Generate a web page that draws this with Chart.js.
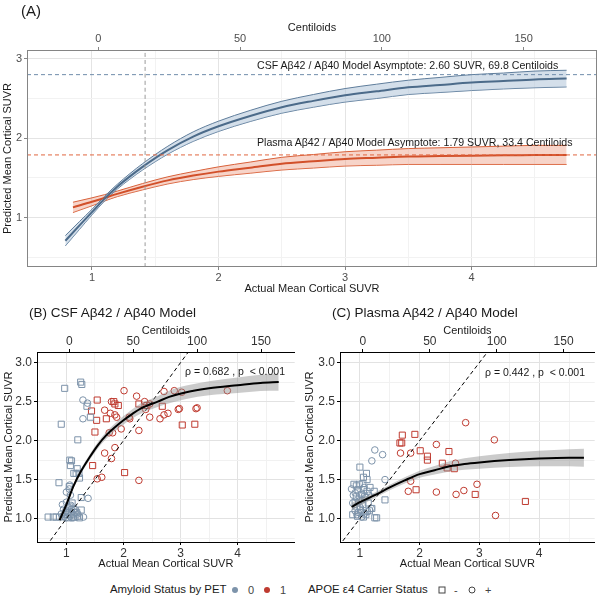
<!DOCTYPE html>
<html>
<head>
<meta charset="utf-8">
<script src="https://cdn.jsdelivr.net/npm/chart.js@4/dist/chart.umd.min.js"></script>
<style>
  body { margin: 0; background: #fff; font-family: "Liberation Sans", Arial, sans-serif; }
  #wrap { position: relative; width: 600px; height: 599px; overflow: hidden; }
  canvas { position: absolute; }
  .t { position: absolute; white-space: pre; color: #1a1a1a; line-height: 1; transform: translateY(-50%); }
  .dot { position: absolute; width: 6px; height: 6px; border-radius: 50%; transform: translate(-50%, -50%); }
  .sq { position: absolute; width: 5px; height: 5px; border: 1px solid #444; transform: translate(-50%, -50%); }
  .ci { position: absolute; width: 5px; height: 5px; border: 1px solid #444; border-radius: 50%; transform: translate(-50%, -50%); }
</style>
</head>
<body>
<div id="wrap">
  <canvas id="chartA" width="600" height="300" style="left:0;top:0"></canvas>
  <canvas id="chartB" width="300" height="275" style="left:0;top:300px"></canvas>
  <canvas id="chartC" width="300" height="275" style="left:300px;top:300px"></canvas>

  <div class="t" style="left:21px;top:10px;font-size:15px">(A)</div>
  <div class="t" style="left:257px;top:65px;font-size:10.6px">CSF Aβ42 / Aβ40 Model Asymptote: 2.60 SUVR, 69.8 Centiloids</div>
  <div class="t" style="left:257px;top:142px;font-size:10.6px">Plasma Aβ42 / Aβ40 Model Asymptote: 1.79 SUVR, 33.4 Centiloids</div>

  <div class="t" style="left:29px;top:313px;font-size:13.5px">(B) CSF Aβ42 / Aβ40 Model</div>
  <div class="t" style="left:332px;top:313px;font-size:13.5px">(C) Plasma Aβ42 / Aβ40 Model</div>
  <div class="t" style="left:185px;top:371px;font-size:10.5px">ρ = 0.682 , p  &lt; 0.001</div>
  <div class="t" style="left:485px;top:372px;font-size:10.5px">ρ = 0.442 , p  &lt; 0.001</div>

  <div class="t" style="left:110px;top:590px;font-size:11.4px">Amyloid Status by PET</div>
  <div class="dot" style="left:235px;top:590px;background:#7d93aa"></div>
  <div class="t" style="left:248px;top:590px;font-size:11px;color:#444">0</div>
  <div class="dot" style="left:267px;top:590px;background:#bf3b30"></div>
  <div class="t" style="left:280px;top:590px;font-size:11px;color:#444">1</div>

  <div class="t" style="left:308px;top:590px;font-size:11.4px">APOE ε4 Carrier Status</div>
  <div class="sq" style="left:442px;top:590px"></div>
  <div class="t" style="left:454px;top:590px;font-size:11px;color:#444">-</div>
  <div class="ci" style="left:472px;top:590px"></div>
  <div class="t" style="left:485px;top:590px;font-size:11px;color:#444">+</div>
</div>

<script>
// ---- Panel A: model curves (SUVR) ----
var csfX    = [0.79, 0.9, 1.0, 1.1, 1.2, 1.3, 1.4, 1.6, 1.8, 2.0, 2.25, 2.5, 2.75, 3.0, 3.25, 3.5, 3.75, 4.0, 4.25, 4.5, 4.75];
var csfFit  = [0.71, 0.90, 1.07, 1.24, 1.39, 1.52, 1.64, 1.85, 2.02, 2.15, 2.28, 2.39, 2.47, 2.54, 2.59, 2.64, 2.67, 2.70, 2.72, 2.74, 2.75];
var csfLo   = [0.645, 0.85, 1.035, 1.21, 1.36, 1.485, 1.60, 1.80, 1.96, 2.085, 2.21, 2.315, 2.39, 2.455, 2.50, 2.55, 2.575, 2.60, 2.62, 2.635, 2.645];
var csfHi   = [0.775, 0.95, 1.105, 1.27, 1.42, 1.555, 1.68, 1.90, 2.08, 2.215, 2.35, 2.465, 2.55, 2.625, 2.68, 2.73, 2.765, 2.80, 2.82, 2.845, 2.855];

var plasmaX   = [0.85, 1.0, 1.1, 1.2, 1.4, 1.6, 1.8, 2.0, 2.25, 2.5, 2.75, 3.0, 3.25, 3.5, 3.75, 4.0, 4.25, 4.5, 4.75];
var plasmaFit = [1.13, 1.20, 1.25, 1.30, 1.39, 1.47, 1.53, 1.58, 1.63, 1.68, 1.71, 1.74, 1.755, 1.77, 1.775, 1.78, 1.785, 1.79, 1.79];
var plasmaLo  = [1.065, 1.15, 1.21, 1.265, 1.35, 1.425, 1.48, 1.52, 1.56, 1.60, 1.625, 1.65, 1.66, 1.67, 1.67, 1.67, 1.67, 1.67, 1.67];
var plasmaHi  = [1.195, 1.25, 1.29, 1.335, 1.43, 1.515, 1.58, 1.64, 1.70, 1.76, 1.795, 1.83, 1.85, 1.87, 1.88, 1.89, 1.90, 1.91, 1.91];

var csfAsymptote = 2.80;
var plasmaAsymptote = 1.79;
var amyloidThreshold = 1.42;

// ---- Panel B: CSF model fit ----
var bX   = [0.88, 1.0, 1.12, 1.25, 1.41, 1.55, 1.70, 1.85, 2.0, 2.15, 2.3, 2.6, 2.8, 3.1, 3.5, 4.0, 4.4, 4.72];
var bFit = [0.98, 1.18, 1.41, 1.60, 1.79, 1.94, 2.07, 2.17, 2.26, 2.34, 2.41, 2.50, 2.56, 2.62, 2.67, 2.71, 2.74, 2.75];
var bLo  = [0.94, 1.145, 1.38, 1.57, 1.755, 1.90, 2.025, 2.12, 2.205, 2.28, 2.345, 2.43, 2.48, 2.535, 2.58, 2.61, 2.635, 2.64];
var bHi  = [1.02, 1.215, 1.44, 1.63, 1.825, 1.98, 2.115, 2.22, 2.315, 2.40, 2.475, 2.57, 2.64, 2.705, 2.76, 2.81, 2.845, 2.86];

// points [actual, predicted]; amy0/amy1 = PET status, Neg/Pos = APOE e4 carrier
var bAmy0Neg = [[0.97,2.67],[1.25,2.75],[1.27,2.72],[0.91,2.21],[1.20,2.01],[1.36,2.44],[1.42,2.30],
  [1.06,1.75],[1.09,1.74],[1.07,1.68],[1.13,1.58],[1.17,1.58],[1.19,1.64],[1.22,1.58],[1.23,1.52],[0.87,1.46],
  [1.05,1.41],[1.26,1.27],[1.26,1.11],[0.68,1.02],[0.77,1.02],[0.82,1.02],[0.88,1.02],[0.95,1.03],[1.03,1.01],
  [1.09,1.06],[1.15,1.02],[1.18,1.08],[1.20,1.03],[0.99,1.08],[1.12,1.12],[1.06,1.15],[1.23,1.01],[1.10,1.20],[1.02,1.05]];
var bAmy0Pos = [[1.29,2.52],[1.37,2.48],[1.29,2.28],[1.06,1.43],[1.05,1.38],[1.00,1.34],[1.07,1.30],[1.38,1.26],
  [1.30,1.02],[0.93,1.18],[1.00,1.21],[0.91,1.06],[0.95,1.12],[1.03,1.08],[1.06,1.03],[1.09,1.12],[1.12,1.05],
  [1.15,1.08],[1.20,1.06],[0.99,1.01],[1.03,1.15],[1.09,1.01],[1.15,1.12],[1.00,1.10],[1.12,1.01],[1.08,1.17],[0.97,1.05]];
var bAmy1Neg = [[1.54,2.52],[1.44,2.38],[1.53,2.26],[1.50,2.11],[1.70,2.28],[1.83,2.50],[1.85,2.47],[1.91,2.45],
  [2.27,2.47],[2.41,2.45],[2.68,2.44],[3.03,2.20],[3.25,2.21],[1.46,1.68],[2.02,1.59]];
var bAmy1Pos = [[1.67,2.39],[1.79,2.50],[1.77,2.35],[1.85,2.33],[1.88,2.30],[2.01,2.64],[2.23,2.57],[2.11,2.28],
  [2.27,2.13],[2.37,2.50],[2.46,2.47],[2.39,2.40],[2.46,2.30],[2.64,2.28],[2.71,2.33],[2.78,2.35],[2.71,2.63],
  [2.89,2.64],[3.02,2.62],[2.96,2.40],[2.98,2.41],[3.27,2.41],[3.29,2.42],[3.82,2.64],[1.75,2.10],[1.81,2.10],
  [1.96,2.15],[1.85,1.91],[1.67,1.84],[1.79,1.77],[1.62,1.53],[1.54,1.51],[2.27,1.49],[2.10,2.30]];

// ---- Panel C: plasma model fit ----
var cX   = [0.86, 1.0, 1.25, 1.5, 1.75, 2.0, 2.25, 2.5, 2.75, 3.0, 3.5, 4.0, 4.5, 4.75];
var cFit = [1.15, 1.21, 1.30, 1.40, 1.49, 1.57, 1.62, 1.67, 1.70, 1.72, 1.75, 1.77, 1.78, 1.78];
var cLo  = [1.10, 1.165, 1.265, 1.365, 1.45, 1.525, 1.565, 1.605, 1.625, 1.64, 1.66, 1.67, 1.67, 1.665];
var cHi  = [1.20, 1.255, 1.335, 1.435, 1.53, 1.615, 1.675, 1.735, 1.775, 1.80, 1.84, 1.87, 1.89, 1.895];

var cAmy0Neg = [[1.00,1.66],[1.06,1.53],[1.11,1.58],[1.12,1.50],[1.05,1.45],[0.99,1.44],[0.94,1.42],[0.90,1.44],
  [0.97,1.37],[1.06,1.37],[1.03,1.31],[0.94,1.28],[1.00,1.25],[1.08,1.28],[1.12,1.35],[1.17,1.40],[1.14,1.20],
  [1.05,1.18],[0.95,1.15],[0.88,1.05],[1.02,1.08],[1.10,1.05],[1.16,1.10],[1.06,1.02],[0.96,1.03],[1.25,1.01],
  [1.28,1.01],[1.42,1.24],[1.20,1.13],[1.01,1.12],[1.24,1.35],[0.92,1.21]];
var cAmy0Pos = [[0.86,1.38],[0.89,1.30],[0.88,1.20],[0.92,1.10],[0.95,1.05],[1.03,1.02],[1.08,1.07],[1.13,1.09],
  [1.19,1.13],[0.98,1.22],[1.04,1.24],[1.10,1.27],[0.92,1.33],[1.00,1.15],[1.25,1.88],[1.38,1.82],[1.20,1.74],
  [1.42,1.50],[1.07,1.40],[1.15,1.30],[0.97,1.08]];
var cAmy1Neg = [[1.71,2.07],[1.92,2.08],[1.67,1.97],[1.70,1.97],[2.01,1.87],[2.49,1.86],[2.13,1.80],[2.13,1.75],
  [2.38,1.71],[2.46,1.65],[2.58,1.64],[1.94,1.37],[2.93,1.31],[3.77,1.22]];
var cAmy1Pos = [[2.77,2.23],[3.25,2.01],[2.28,1.95],[1.68,1.84],[1.85,1.84],[2.60,1.71],[1.85,1.48],[1.81,1.35],
  [2.28,1.34],[2.61,1.31],[2.74,1.36],[2.96,1.44],[3.27,1.04]];

// ---- axes ----
var suvrTicks = [1, 1.5, 2, 2.5, 3, 3.5, 4, 4.5];
var aYTicks = [0.5, 1, 1.5, 2, 2.5, 3];
var bcYTicks = [0.75, 1, 1.25, 1.5, 1.75, 2, 2.25, 2.5, 2.75, 3];
var centiloidTicks = [0, 50, 100, 150];
var clZero = 1.05, clPerUnit = 0.0224;   // SUVR = clZero + CL * clPerUnit

var blueCol = '#7d93aa', redCol = '#bf3b30';

Chart.defaults.font.family = '"Liberation Sans", Arial, sans-serif';

function pts(xs, ys) {
    return xs.map(function(x, i) { return { x: x, y: ys[i] }; });
}
function pairs(arr) {
    return arr.map(function(p) { return { x: p[0], y: p[1] }; });
}
function isStep(v, step) {
    return Math.abs(v / step - Math.round(v / step)) < 1e-6;
}
function fixTicks(list) {
    return function(scale) { scale.ticks = list.map(function(v) { return { value: v }; }); };
}
function toCL(suvr) {
    return (suvr - clZero) / clPerUnit;
}

// Grey panel border for panel A
var framePlugin = {
    id: 'frame',
    afterDraw: function(chart) {
        var a = chart.chartArea, c = chart.ctx;
        c.save();
        c.strokeStyle = '#858585';
        c.lineWidth = 1;
        c.strokeRect(a.left + 0.5, a.top + 0.5, a.right - a.left - 1, a.bottom - a.top - 1);
        c.restore();
    }
};

function line(data, color, width, order, dash) {
    return { data: data, showLine: true, borderColor: color, borderWidth: width, borderDash: dash || [],
             pointRadius: 0, fill: false, order: order, cubicInterpolationMode: 'monotone' };
}
function band(data, edge, fillCol, order) {
    return { data: data, showLine: true, borderColor: edge, borderWidth: edge ? 1 : 0, pointRadius: 0,
             backgroundColor: fillCol, fill: '+1', order: order, cubicInterpolationMode: 'monotone' };
}
function markers(data, color, style, order) {
    return { data: pairs(data), showLine: false, pointStyle: style, pointRadius: style === 'rect' ? 4.3 : 3.3,
             pointBorderColor: color, pointBackgroundColor: 'rgba(0,0,0,0)', pointBorderWidth: 1, order: order };
}

// ---- Panel A ----
var aXRange = [0.487, 4.99], aYRange = [0.38, 3.11];

new Chart(document.getElementById('chartA').getContext('2d'), {
    type: 'scatter',
    data: {
        datasets: [
            band(pts(csfX, csfHi), '#5f7d9b', 'rgba(170,192,214,0.5)', 5),
            band(pts(csfX, csfLo), '#5f7d9b', 'rgba(0,0,0,0)', 5),
            line(pts(csfX, csfFit), '#4c6b8a', 2, 2),
            band(pts(plasmaX, plasmaHi), '#d8613a', 'rgba(238,160,135,0.45)', 6),
            band(pts(plasmaX, plasmaLo), '#d8613a', 'rgba(0,0,0,0)', 6),
            line(pts(plasmaX, plasmaFit), '#d2502a', 2, 3),
            line([{ x: aXRange[0], y: csfAsymptote }, { x: aXRange[1], y: csfAsymptote }], '#6f8cab', 1, 1, [4, 3]),
            line([{ x: aXRange[0], y: plasmaAsymptote }, { x: aXRange[1], y: plasmaAsymptote }], '#e0653f', 1, 1, [4, 3]),
            line([{ x: amyloidThreshold, y: aYRange[0] }, { x: amyloidThreshold, y: aYRange[1] }], '#9a9a9a', 1, 1, [4, 3])
        ]
    },
    options: {
        responsive: false, animation: false, events: [],
        layout: { padding: { top: 18, right: 3, left: 0, bottom: 0 } },
        plugins: { legend: { display: false }, tooltip: { enabled: false } },
        scales: {
            x: {
                type: 'linear', position: 'bottom', min: aXRange[0], max: aXRange[1],
                afterBuildTicks: fixTicks(suvrTicks),
                afterFit: function(s) { s.height = 33; },
                ticks: { autoSkip: false, maxRotation: 0, padding: 1, color: '#4d4d4d', font: { size: 11 },
                         callback: function(v) { return isStep(v, 1) ? String(v) : ''; } },
                grid: { color: function(c) { return isStep(c.tick.value, 1) ? '#e4e4e4' : '#f2f2f2'; },
                        tickColor: function(c) { return isStep(c.tick.value, 1) ? '#858585' : 'rgba(0,0,0,0)'; },
                        tickLength: 3 },
                border: { display: false },
                title: { display: true, text: 'Actual Mean Cortical SUVR', color: '#1a1a1a', font: { size: 11 }, padding: { top: 0, bottom: 4 } }
            },
            x2: {
                type: 'linear', position: 'top', min: toCL(aXRange[0]), max: toCL(aXRange[1]),
                afterBuildTicks: fixTicks(centiloidTicks),
                afterFit: function(s) { s.height = 32; },
                ticks: { autoSkip: false, maxRotation: 0, padding: 1, color: '#4d4d4d', font: { size: 11 } },
                grid: { drawOnChartArea: false, tickColor: '#858585', tickLength: 3 },
                border: { display: false },
                title: { display: true, text: 'Centiloids', color: '#1a1a1a', font: { size: 11 }, padding: { top: 3, bottom: 0 } }
            },
            y: {
                type: 'linear', position: 'left', min: aYRange[0], max: aYRange[1],
                afterBuildTicks: fixTicks(aYTicks),
                afterFit: function(s) { s.width = 27; },
                ticks: { autoSkip: false, padding: 2, color: '#4d4d4d', font: { size: 11 },
                         callback: function(v) { return isStep(v, 1) ? String(v) : ''; } },
                grid: { color: function(c) { return isStep(c.tick.value, 1) ? '#e4e4e4' : '#f2f2f2'; },
                        tickColor: function(c) { return isStep(c.tick.value, 1) ? '#858585' : 'rgba(0,0,0,0)'; },
                        tickLength: 3 },
                border: { display: false },
                title: { display: true, text: 'Predicted Mean Cortical SUVR', color: '#1a1a1a', font: { size: 11 }, padding: { top: 1, bottom: 0 } }
            }
        }
    },
    plugins: [framePlugin]
});

// ---- Panels B and C share a layout ----
function createPanel(canvasId, xRange, yRange, fitX, fit, lo, hi, a0n, a0p, a1n, a1p, yWidth, yTitlePad) {
    return new Chart(document.getElementById(canvasId).getContext('2d'), {
        type: 'scatter',
        data: {
            datasets: [
                line(pts(fitX, fit), '#000000', 2, 0),
                band(pts(fitX, hi), null, 'rgba(140,140,140,0.45)', 1),
                band(pts(fitX, lo), null, 'rgba(0,0,0,0)', 1),
                line([{ x: 0.5, y: 0.5 }, { x: 3.3, y: 3.3 }], '#000000', 1, 2, [4, 3]),
                markers(a0n, blueCol, 'rect', 3),
                markers(a0p, blueCol, 'circle', 3),
                markers(a1n, redCol, 'rect', 3),
                markers(a1p, redCol, 'circle', 3)
            ]
        },
        options: {
            responsive: false, animation: false, events: [],
            layout: { padding: { top: 21, right: 300 - yWidth - (xRange.plotWidth), left: 0, bottom: 0 } },
            plugins: { legend: { display: false }, tooltip: { enabled: false } },
            scales: {
                x: {
                    type: 'linear', position: 'bottom', min: xRange[0], max: xRange[1],
                    afterBuildTicks: fixTicks(suvrTicks),
                    afterFit: function(s) { s.height = 33; },
                    ticks: { autoSkip: false, maxRotation: 0, padding: 1, color: '#333', font: { size: 12 },
                             callback: function(v) { return isStep(v, 1) ? String(v) : ''; } },
                    grid: { color: function(c) { return isStep(c.tick.value, 1) ? '#e2e2e2' : '#f1f1f1'; },
                            tickColor: function(c) { return isStep(c.tick.value, 1) ? '#000' : 'rgba(0,0,0,0)'; },
                            tickLength: 3 },
                    border: { display: true, color: '#000', width: 1 },
                    title: { display: true, text: 'Actual Mean Cortical SUVR', color: '#1a1a1a', font: { size: 11 }, padding: { top: 0, bottom: 4 } }
                },
                x2: {
                    type: 'linear', position: 'top', min: toCL(xRange[0]), max: toCL(xRange[1]),
                    afterBuildTicks: fixTicks(centiloidTicks),
                    afterFit: function(s) { s.height = 31; },
                    ticks: { autoSkip: false, maxRotation: 0, padding: 0, color: '#333', font: { size: 12 } },
                    grid: { drawOnChartArea: false, tickColor: '#000', tickLength: 3 },
                    border: { display: true, color: '#000', width: 1 },
                    title: { display: true, text: 'Centiloids', color: '#1a1a1a', font: { size: 11 }, padding: { top: 3, bottom: 0 } }
                },
                y: {
                    type: 'linear', position: 'left', min: yRange[0], max: yRange[1],
                    afterBuildTicks: fixTicks(bcYTicks),
                    afterFit: function(s) { s.width = yWidth; },
                    ticks: { autoSkip: false, padding: 2, color: '#333', font: { size: 12 },
                             callback: function(v) { return isStep(v, 0.5) ? v.toFixed(1) : ''; } },
                    grid: { color: function(c) { return isStep(c.tick.value, 0.5) ? '#e2e2e2' : '#f1f1f1'; },
                            tickColor: function(c) { return isStep(c.tick.value, 0.5) ? '#000' : 'rgba(0,0,0,0)'; },
                            tickLength: 3 },
                    border: { display: true, color: '#000', width: 1 },
                    title: { display: true, text: 'Predicted Mean Cortical SUVR', color: '#1a1a1a', font: { size: 11 }, padding: { top: yTitlePad, bottom: 0 } }
                }
            }
        }
    });
}

var bXRange = [0.485, 5.0]; bXRange.plotWidth = 258;
var cXRange = [0.667, 4.93]; cXRange.plotWidth = 257;
var bcYRange = [0.70, 3.136];

createPanel('chartB', bXRange, bcYRange, bX, bFit, bLo, bHi, bAmy0Neg, bAmy0Pos, bAmy1Neg, bAmy1Pos, 37, 2);
createPanel('chartC', cXRange, bcYRange, cX, cFit, cLo, cHi, cAmy0Neg, cAmy0Pos, cAmy1Neg, cAmy1Pos, 40, 3);
</script>
</body>
</html>
